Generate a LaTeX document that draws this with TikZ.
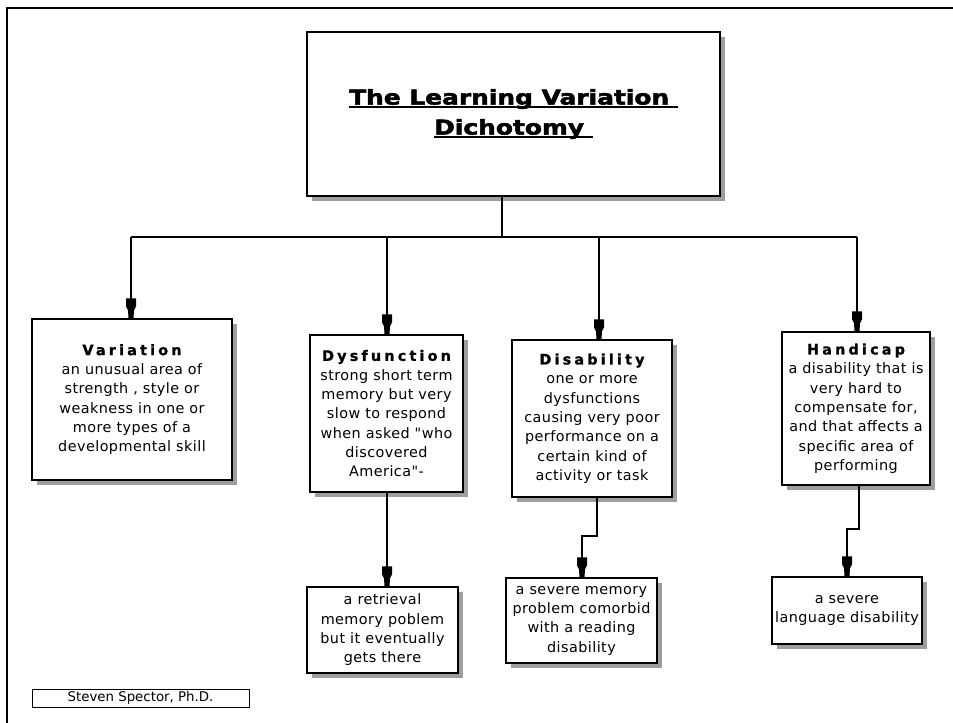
\documentclass[tikz,border=0pt]{standalone}
\usepackage{fontspec}
\usetikzlibrary{shadows}
\setmainfont{DejaVu Sans}
\newfontfamily\titlefont[FakeStretch=1.22,FakeBold=2.5]{DejaVu Sans}
\newfontfamily\headfont[LetterSpace=22,FakeBold=1]{DejaVu Sans}
\newfontfamily\bodyfont[LetterSpace=3]{DejaVu Sans}
\definecolor{shade}{gray}{0.62}
\newcommand\myul[1]{\setbox0=\hbox{#1}\rlap{\rule[-2.6pt]{\wd0}{1.4pt}}\box0}
\begin{document}
\begin{tikzpicture}[x=0.75pt,y=-0.75pt,
  box/.style={draw, line width=1.1pt, fill=white, inner sep=0pt, align=center,
    font=\bodyfont\fontsize{10.8}{14.5}\selectfont,
    drop shadow={shadow xshift=3.75pt, shadow yshift=-3.75pt, fill=shade, opacity=1}},
  conn/.style={draw, line width=1pt},
  plug/.pic={\fill (-2.5,0)--(2.5,0)--(3,-8)--(5,-12)--(5,-20)--(-5,-20)--(-5,-12)--(-3,-8)--cycle;}]
\useasboundingbox (0,0) rectangle (953,723);
% outer frame
\draw[line width=1.4pt] (7,723) -- (7,8) -- (953,8);

\node[box, minimum width=309.75pt, minimum height=123pt,
  font=\titlefont\bfseries\fontsize{15.3}{22.5}\selectfont] (title) at (513.5,114)
  {\myul{The Learning Variation\ }\\\myul{Dichotomy\ }};

\node[box, minimum width=150pt, minimum height=120.75pt] (var) at (132,399.5)
  {{\headfont\bfseries Variation}\\an unusual area of\\strength , style or\\weakness in one or\\more types of a\\developmental skill};
\node[box, minimum width=114.75pt, minimum height=117.75pt] (dys) at (386.5,413.5)
  {{\headfont\bfseries Dysfunction}\\strong short term\\memory but very\\slow to respond\\when asked "who\\discovered\\America"-};
\node[box, minimum width=120pt, minimum height=117.75pt] (dis) at (592,418.5)
  {{\headfont\bfseries Disability}\\one or more\\dysfunctions\\causing very poor\\performance on a\\certain kind of\\activity or task};
\node[box, minimum width=111pt, minimum height=114.75pt] (han) at (856,408.5)
  {{\headfont\bfseries Handicap}\\a disability that is\\very hard to\\compensate for,\\and that affects a\\specific area of\\performing};

\node[box, minimum width=113.25pt, minimum height=64.5pt] (ret) at (382.5,630)
  {a retrieval\\memory poblem\\but it eventually\\gets there};
\node[box, minimum width=113.25pt, minimum height=63.75pt] (sev) at (581.5,620.5)
  {a severe memory\\problem comorbid\\with a reading\\disability};
\node[box, minimum width=112.5pt, minimum height=50.25pt] (lang) at (847,610.5)
  {a severe\\language disability};

\node[draw, line width=0.7pt, minimum width=162.75pt, minimum height=13.5pt, inner sep=0pt,
  font=\fontsize{10}{11}\selectfont] (auth) at (140.5,698) {Steven Spector, Ph.D.};

% helper coordinates
\coordinate (hy) at (0,237);
\coordinate (tx) at (502,0);
\coordinate (a1) at (131,0);
\coordinate (a2) at (387,0);
\coordinate (a3) at (599,0);
\coordinate (a4) at (857,0);
\coordinate (b3) at (597,0);
\coordinate (k3) at (0,536);
\coordinate (c3) at (582,0);
\coordinate (b4) at (859,0);
\coordinate (k4) at (0,529);

% top tree
\draw[conn] (title.south -| tx) -- (tx |- hy);
\draw[conn] (a1 |- hy) -- (a4 |- hy);
\draw[conn] (a1 |- hy) -- (a1 |- var.north);
\draw[conn] (a2 |- hy) -- (a2 |- dys.north);
\draw[conn] (a3 |- hy) -- (a3 |- dis.north);
\draw[conn] (a4 |- hy) -- (a4 |- han.north);
\pic at (a1 |- var.north) {plug};
\pic at (a2 |- dys.north) {plug};
\pic at (a3 |- dis.north) {plug};
\pic at (a4 |- han.north) {plug};

% lower connectors
\draw[conn] (a2 |- dys.south) -- (a2 |- ret.north);
\draw[conn] (b3 |- dis.south) -- (b3 |- k3) -- (c3 |- k3) -- (c3 |- sev.north);
\draw[conn] (b4 |- han.south) -- (b4 |- k4) -- (lang.north |- k4) -- (lang.north);
\pic at (a2 |- ret.north) {plug};
\pic at (c3 |- sev.north) {plug};
\pic at (lang.north) {plug};
\end{tikzpicture}
\end{document}
